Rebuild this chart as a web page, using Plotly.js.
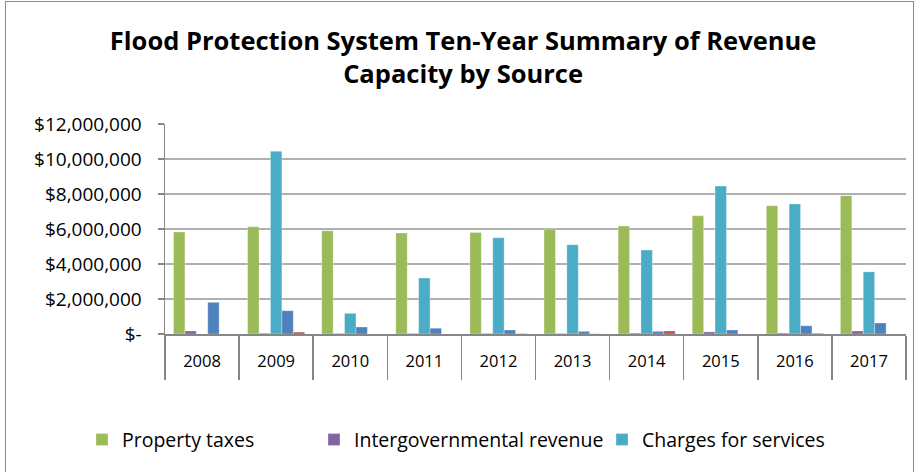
<!DOCTYPE html>
<html>
<head>
<meta charset="utf-8">
<script src="https://cdn.plot.ly/plotly-3.0.1.min.js"></script>
<style>
  html, body { margin: 0; padding: 0; background: #fff; }
  #wrap { position: relative; width: 917px; height: 472px; }
  #chart { width: 917px; height: 472px; }
  #frame { position: absolute; left: 5px; top: 1px; width: 907px; height: 480px;
           border: 1px solid #8c8c8c; pointer-events: none; }
</style>
</head>
<body>
<div id="wrap">
  <div id="chart"></div>
  <div id="frame"></div>
</div>
<script>
const years = ['2008','2009','2010','2011','2012','2013','2014','2015','2016','2017'];
const propertyTaxes    = [5830000, 6130000, 5900000, 5770000, 5800000, 6000000, 6170000, 6750000, 7330000, 7900000];
const intergovRevenue  = [170000, 40000, 30000, 30000, 30000, 30000, 50000, 120000, 50000, 170000];
const chargesServices  = [0, 10440000, 1180000, 3200000, 5500000, 5100000, 4800000, 8450000, 7430000, 3550000];
const investmentEarn   = [1810000, 1330000, 400000, 330000, 230000, 150000, 150000, 230000, 470000, 630000];
const otherRevenue     = [0, 110000, 0, 0, 20000, 10000, 170000, 0, 40000, 0];
const yTickVals  = [0, 2000000, 4000000, 6000000, 8000000, 10000000, 12000000];
const yTickText  = ['$-', '$2,000,000', '$4,000,000', '$6,000,000', '$8,000,000', '$10,000,000', '$12,000,000'];

const FONT = 'Open Sans, Noto Sans, sans-serif';

function bar(name, y, color, show, legendId) {
  const t = { type: 'bar', name: name, x: years, y: y,
           marker: { color: color, line: { color: 'rgba(255,255,255,0.6)', width: 0.5 } },
           showlegend: show, hoverinfo: 'x+y+name' };
  if (legendId) t.legend = legendId;
  return t;
}

const data = [
  bar('Property taxes', propertyTaxes, '#9BBB59', true, 'legend'),
  bar('Intergovernmental revenue', intergovRevenue, '#8064A2', true, 'legend2'),
  bar('Charges for services', chargesServices, '#4BACC6', true, 'legend3'),
  bar('Investment earnings', investmentEarn, '#4F81BD', false),
  bar('Other', otherRevenue, '#C0504D', false)
];

function leg(xpx) {
  return {
    orientation: 'h', x: xpx / 917, xref: 'container', xanchor: 'left',
    y: 0.068, yref: 'container', yanchor: 'middle',
    font: { family: FONT, size: 19.5, color: '#000' },
    itemwidth: 30, bgcolor: 'rgba(0,0,0,0)'
  };
}

const layout = {
  width: 917, height: 472,
  margin: { l: 165, r: 11, t: 124, b: 138 },
  paper_bgcolor: '#ffffff', plot_bgcolor: '#ffffff',
  font: { family: FONT, color: '#000000', size: 16 },
  title: {
    text: '<b>Flood Protection System Ten-Year Summary of Revenue<br>Capacity by Source</b>',
    font: { family: FONT, size: 25.5, color: '#000' },
    x: 0.505, xref: 'container', xanchor: 'center',
    y: 0.895, yref: 'container', yanchor: 'middle'
  },
  barmode: 'group',
  bargap: 0.23,
  bargroupgap: 0,
  xaxis: {
    type: 'category',
    showline: true, linecolor: '#868686', linewidth: 1.5,
    ticks: 'outside', tickson: 'boundaries', ticklen: 44, tickcolor: '#868686', tickwidth: 1.5,
    tickfont: { family: FONT, size: 16.5, color: '#000' },
    ticklabelstandoff: 12,
    showgrid: false, zeroline: false, fixedrange: true
  },
  yaxis: {
    range: [0, 12000000],
    tickvals: yTickVals, ticktext: yTickText,
    showline: true, linecolor: '#868686', linewidth: 1.5,
    ticks: 'outside', ticklen: 6, tickcolor: '#868686', tickwidth: 1.5,
    showgrid: true, gridcolor: '#b0b0b0', gridwidth: 1.5,
    zeroline: false,
    tickfont: { family: FONT, size: 19, color: '#000' },
    ticklabelstandoff: 12,
    fixedrange: true
  },
  legend: leg(82),
  legend2: leg(314),
  legend3: leg(602),
  showlegend: true
};

Plotly.newPlot('chart', data, layout, { displayModeBar: false, staticPlot: true });
</script>
</body>
</html>
